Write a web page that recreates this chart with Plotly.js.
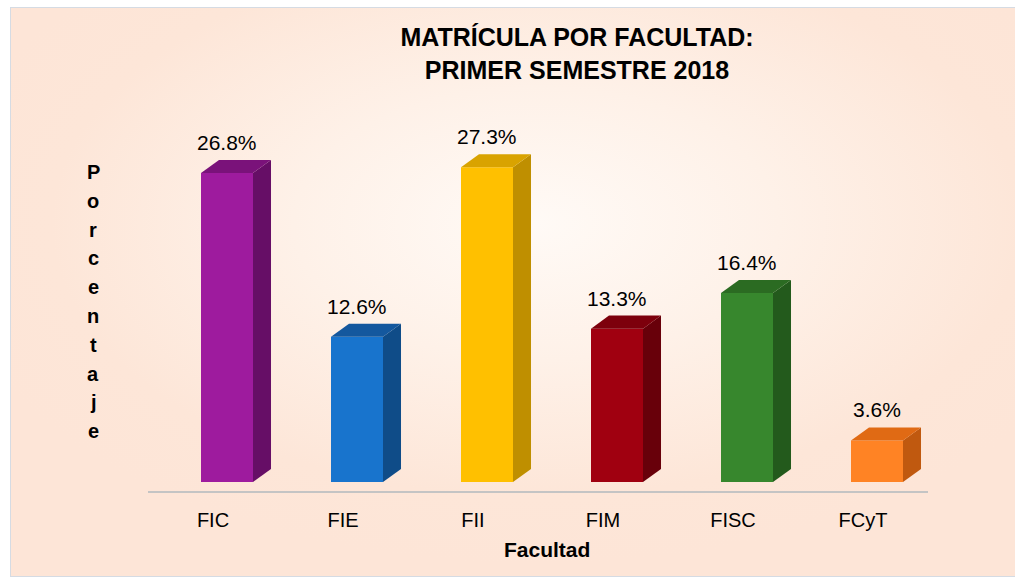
<!DOCTYPE html>
<html>
<head>
<meta charset="utf-8">
<script src="https://cdn.plot.ly/plotly-3.0.1.min.js"></script>
<style>
  html, body { margin: 0; padding: 0; background: #ffffff; }
  #frame {
    position: absolute; left: 10px; top: 7px; width: 1010px; height: 568px;
    border: 1px solid #D5DBE3;
    background: radial-gradient(ellipse 60% 60% at 52% 38%, #FFFAF6 0%, #FEF1E8 40%, #FDE6D8 80%, #FDE5D7 100%);
  }
  #chart { position: absolute; left: 0; top: 0; width: 1015px; height: 578px; }
</style>
</head>
<body>
<div id="frame"></div>
<div id="chart"></div>
<script>
// ---- data ----
const categories = ['FIC', 'FIE', 'FII', 'FIM', 'FISC', 'FCyT'];
const values = [26.8, 12.6, 27.3, 13.3, 16.4, 3.6];
const valueLabels = ['26.8%', '12.6%', '27.3%', '13.3%', '16.4%', '3.6%'];
const frontColors = ['#9E1B9E', '#1874CD', '#FFC000', '#A00010', '#37872D', '#FF8324'];
const topColors   = ['#7A127A', '#14589E', '#D9A300', '#7D000C', '#2B6B22', '#E06A14'];
const sideColors  = ['#660E66', '#0F4C88', '#BF8F00', '#68000A', '#235A1C', '#C0590F'];

// ---- geometry (styles) ----
const BAR_W = 0.4;
const BAR_SHIFT = 0.1077;
const DX = 0.1385;
const DY = 1.13;
const FONT = 'Liberation Sans, Arial, sans-serif';

const idx = categories.map((_, i) => i);

const traces = [];
traces.push({
  type: 'bar', x: idx, y: values, width: BAR_W, offset: BAR_SHIFT - BAR_W / 2,
  marker: { color: frontColors, line: { width: 0 } }, hoverinfo: 'none', showlegend: false
});

idx.forEach((i) => {
  const v = values[i];
  const L = i + BAR_SHIFT - BAR_W / 2;
  const R = i + BAR_SHIFT + BAR_W / 2;
  traces.push({
    type: 'scatter', mode: 'lines', fill: 'toself', fillcolor: sideColors[i],
    line: { width: 0 }, hoverinfo: 'none', showlegend: false,
    x: [R, R, R + DX, R + DX, R], y: [0, v, v + DY, DY, 0]
  });
  traces.push({
    type: 'scatter', mode: 'lines', fill: 'toself', fillcolor: topColors[i],
    line: { width: 0 }, hoverinfo: 'none', showlegend: false,
    x: [L, R, R + DX, L + DX, L], y: [v, v, v + DY, v + DY, v]
  });
});

const annotations = idx.map((i) => ({
  x: i + BAR_SHIFT, y: values[i] + DY, xref: 'x', yref: 'y',
  text: valueLabels[i], showarrow: false, yanchor: 'bottom', yshift: 4,
  font: { family: FONT, size: 21, color: '#000' }
}));

// x-axis title
annotations.push({
  xref: 'paper', yref: 'paper', x: (547 - 148) / 780, y: (491 - 549) / 391,
  xanchor: 'center', yanchor: 'middle', showarrow: false,
  text: '<b>Facultad</b>', font: { family: FONT, size: 21, color: '#000' }
});

// y-axis title, stacked letters
const yTitle = 'Porcentaje';
yTitle.split('').forEach((ch, k) => {
  annotations.push({
    xref: 'paper', yref: 'paper', x: (93 - 148) / 780, y: (491 - (172 + 28.8 * k)) / 391,
    xanchor: 'center', yanchor: 'middle', showarrow: false,
    text: '<b>' + ch + '</b>', font: { family: FONT, size: 20, color: '#000' }
  });
});

const layout = {
  width: 1015, height: 578,
  margin: { l: 148, r: 87, t: 100, b: 87 },
  paper_bgcolor: 'rgba(0,0,0,0)', plot_bgcolor: 'rgba(0,0,0,0)',
  showlegend: false,
  title: {
    text: '<b>MATRÍCULA POR FACULTAD:<br>PRIMER SEMESTRE 2018</b>',
    font: { family: FONT, size: 25, color: '#000' },
    xref: 'container', yref: 'container', x: 577 / 1015, xanchor: 'center',
    y: 1 - 46 / 578, yanchor: 'middle'
  },
  xaxis: {
    range: [-0.5, 5.5], tickvals: idx, ticktext: categories,
    showgrid: false, zeroline: false, showline: true, linecolor: '#C4C4C4', linewidth: 2,
    ticks: '', ticklabelstandoff: 10, tickfont: { family: FONT, size: 20, color: '#000' }, fixedrange: true
  },
  yaxis: {
    range: [-0.78, 33.13], showgrid: false, zeroline: false, showline: false,
    showticklabels: false, ticks: '', fixedrange: true
  },
  annotations: annotations
};

Plotly.newPlot('chart', traces, layout, { displayModeBar: false, staticPlot: true });
</script>
</body>
</html>
